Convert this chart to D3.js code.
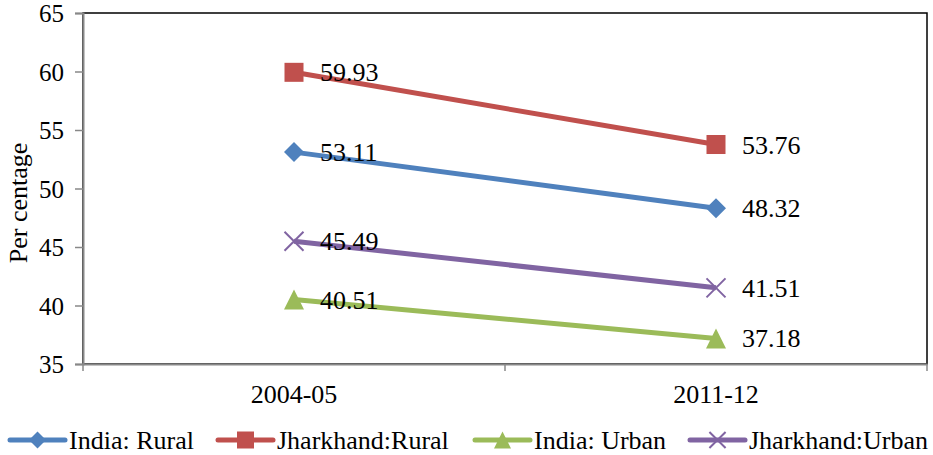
<!DOCTYPE html>
<html><head><meta charset="utf-8">
<script src="https://cdn.jsdelivr.net/npm/d3@7"></script>
<style>body{margin:0;background:#fff}svg{display:block}</style>
</head><body>
<script>
const categories = ["2004-05", "2011-12"];
const seriesNames = ["India: Rural", "Jharkhand:Rural", "India: Urban", "Jharkhand:Urban"];
const indiaRural = [53.11, 48.32];
const jharkhandRural = [59.93, 53.76];
const indiaUrban = [40.51, 37.18];
const jharkhandUrban = [45.49, 41.51];
const yTicks = [35, 40, 45, 50, 55, 60, 65];
const colors = ["#4F81BD", "#C0504D", "#9BBB59", "#8064A2"];
const symbols = ["diamond", "square", "triangle", "cross"];
const seriesValues = [indiaRural, jharkhandRural, indiaUrban, jharkhandUrban];
const FONT = "Liberation Serif, DejaVu Serif, serif";

const W = 933, H = 455;
const m = {left: 83, right: 6, top: 13, bottom: 91};
const svg = d3.select("body").append("svg").attr("width", W).attr("height", H)
  .attr("font-family", FONT);

const x = d3.scaleBand().domain(categories).range([m.left, W - m.right]);
const y = d3.scaleLinear().domain([35, 65]).range([H - m.bottom, m.top]);

svg.append("rect").attr("x", m.left).attr("y", m.top)
  .attr("width", W - m.right - m.left).attr("height", H - m.bottom - m.top)
  .attr("fill", "none").attr("stroke", "#000").attr("stroke-width", 1.5);

const yAxis = svg.append("g").attr("transform", `translate(${m.left},0)`)
  .call(d3.axisLeft(y).tickValues(yTicks).tickSize(8).tickPadding(11));
yAxis.attr("font-family", FONT).attr("font-size", 25);
yAxis.select(".domain").attr("stroke", "#888").attr("stroke-width", 2);
yAxis.selectAll(".tick line").attr("stroke", "#888").attr("stroke-width", 1.5);
yAxis.selectAll("text").attr("font-family", FONT).attr("font-size", 25).attr("dy", "0.34em").attr("fill", "#000");

const xAxis = svg.append("g").attr("transform", `translate(0,${H - m.bottom})`)
  .call(d3.axisBottom(x).tickSize(0).tickPadding(21));
xAxis.attr("font-family", FONT).attr("font-size", 25);
xAxis.select(".domain").attr("stroke", "#888").attr("stroke-width", 2);
xAxis.selectAll("text").attr("font-family", FONT).attr("font-size", 26).attr("fill", "#000");
const bounds = [x.range()[0], x(categories[1]), x.range()[1]];
svg.append("g").selectAll("line").data(bounds).join("line")
  .attr("x1", d => d).attr("x2", d => d)
  .attr("y1", H - m.bottom).attr("y2", H - m.bottom + 7)
  .attr("stroke", "#888").attr("stroke-width", 1.5);

svg.append("text").attr("transform", `translate(27,203) rotate(-90)`)
  .attr("text-anchor", "middle").attr("font-size", 26).attr("font-family", FONT).text("Per centage");

function marker(g, type, color, size) {
  if (type === "diamond") {
    g.append("path").attr("d", `M0,${-size}L${size},0L0,${size}L${-size},0Z`).attr("fill", color);
  } else if (type === "square") {
    g.append("rect").attr("x", -size).attr("y", -size).attr("width", 2 * size).attr("height", 2 * size).attr("fill", color);
  } else if (type === "triangle") {
    g.append("path").attr("d", `M0,${-size}L${size},${size}L${-size},${size}Z`).attr("fill", color);
  } else {
    const s = size * 0.95;
    g.append("path").attr("d", `M${-s},${-s}L${s},${s}M${-s},${s}L${s},${-s}`)
      .attr("stroke", color).attr("stroke-width", 2).attr("fill", "none");
  }
}

const cx = c => x(c) + x.bandwidth() / 2;
const line = d3.line().x((d, i) => cx(categories[i])).y(d => y(d));

seriesValues.forEach((vals, si) => {
  svg.append("path").datum(vals).attr("d", line)
    .attr("fill", "none").attr("stroke", colors[si]).attr("stroke-width", 5);
  vals.forEach((v, i) => {
    const g = svg.append("g").attr("transform", `translate(${cx(categories[i])},${y(v)})`);
    marker(g, symbols[si], colors[si], si === 1 ? 9.5 : 10);
    svg.append("text").attr("x", cx(categories[i]) + 26).attr("y", y(v) + 9)
      .attr("font-size", 26).attr("font-family", FONT).text(v.toFixed(2));
  });
});

const legX = [10, 218, 475, 690];
seriesNames.forEach((n, si) => {
  const g = svg.append("g").attr("transform", `translate(${legX[si]},440)`);
  g.append("line").attr("x1", 0).attr("x2", 55).attr("stroke", colors[si]).attr("stroke-width", 5).attr("stroke-linecap", "round");
  const mg = g.append("g").attr("transform", "translate(27.5,0)");
  marker(mg, symbols[si], colors[si], 8.5);
  g.append("text").attr("x", 59).attr("y", 9).attr("font-size", 26).attr("font-family", FONT).text(n);
});
</script>
</body></html>
